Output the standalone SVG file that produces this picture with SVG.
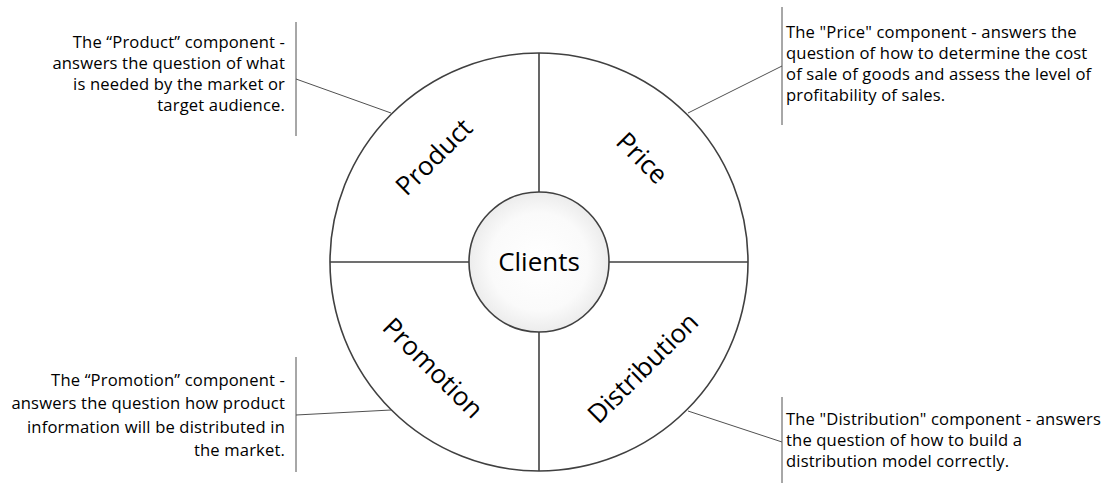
<svg xmlns="http://www.w3.org/2000/svg" width="1115" height="483" viewBox="0 0 1115 483">
<defs>
<radialGradient id="cg" cx="50%" cy="50%" r="50%">
<stop offset="0" stop-color="#ffffff"/>
<stop offset="0.7" stop-color="#fafafa"/>
<stop offset="1" stop-color="#ececec"/>
</radialGradient>
<style>
.ring{fill:#ffffff;stroke:#404040;stroke-width:1.6}
.div{stroke:#404040;stroke-width:1.6;fill:none}
.call{stroke:#505050;stroke-width:1;fill:none}
.note{font-family:"Open Sans","Liberation Sans",sans-serif;font-size:16.6px;letter-spacing:0.15px;fill:#000}
.lbl{font-family:"Open Sans","Liberation Sans",sans-serif;font-size:26px;fill:#000;text-anchor:middle}
</style>
</defs>
<rect width="1115" height="483" fill="#ffffff"/>
<g id="wheel">
<circle class="ring" cx="539" cy="262" r="209"/>
</g>
<g id="connectors">
<line class="div" x1="539" y1="53" x2="539" y2="192"/>
<line class="div" x1="539" y1="332" x2="539" y2="471"/>
<line class="div" x1="330" y1="262" x2="469" y2="262"/>
<line class="div" x1="609" y1="262" x2="748" y2="262"/>
<path class="call" d="M296 22V136M296 79L391 113"/>
<path class="call" d="M782 7V125M782 66L688 113"/>
<path class="call" d="M296 357V472M296 415L391 410"/>
<path class="call" d="M782 397V483M782 442L688 411"/>
</g>
<g id="clients">
<circle cx="539" cy="262" r="70" fill="url(#cg)" stroke="#404040" stroke-width="1.6"/>
<text class="lbl" x="539" y="271">Clients</text>
</g>
<g id="product">
<text class="lbl" transform="translate(434,157) rotate(-45)" y="9">Product</text>
<text class="note" text-anchor="end"><tspan x="285" y="48">The “Product” component -</tspan><tspan x="285" y="69">answers the question of what</tspan><tspan x="285" y="90">is needed by the market or</tspan><tspan x="285" y="111">target audience.</tspan></text>
</g>
<g id="price">
<text class="lbl" transform="translate(642,158) rotate(45)" y="9">Price</text>
<text class="note"><tspan x="786" y="38">The "Price" component - answers the</tspan><tspan x="786" y="59">question of how to determine the cost</tspan><tspan x="786" y="80">of sale of goods and assess the level of</tspan><tspan x="786" y="101">profitability of sales.</tspan></text>
</g>
<g id="promotion">
<text class="lbl" transform="translate(433,368) rotate(45)" y="9">Promotion</text>
<text class="note" text-anchor="end"><tspan x="285" y="385.5">The “Promotion” component -</tspan><tspan x="285" y="409">answers the question how product</tspan><tspan x="285" y="432.5">information will be distributed in</tspan><tspan x="285" y="456">the market.</tspan></text>
</g>
<g id="distribution">
<text class="lbl" transform="translate(643,368) rotate(-45)" y="9">Distribution</text>
<text class="note"><tspan x="786" y="424.5">The "Distribution" component - answers</tspan><tspan x="786" y="445.5">the question of how to build a</tspan><tspan x="786" y="466.5">distribution model correctly.</tspan></text>
</g>
</svg>
